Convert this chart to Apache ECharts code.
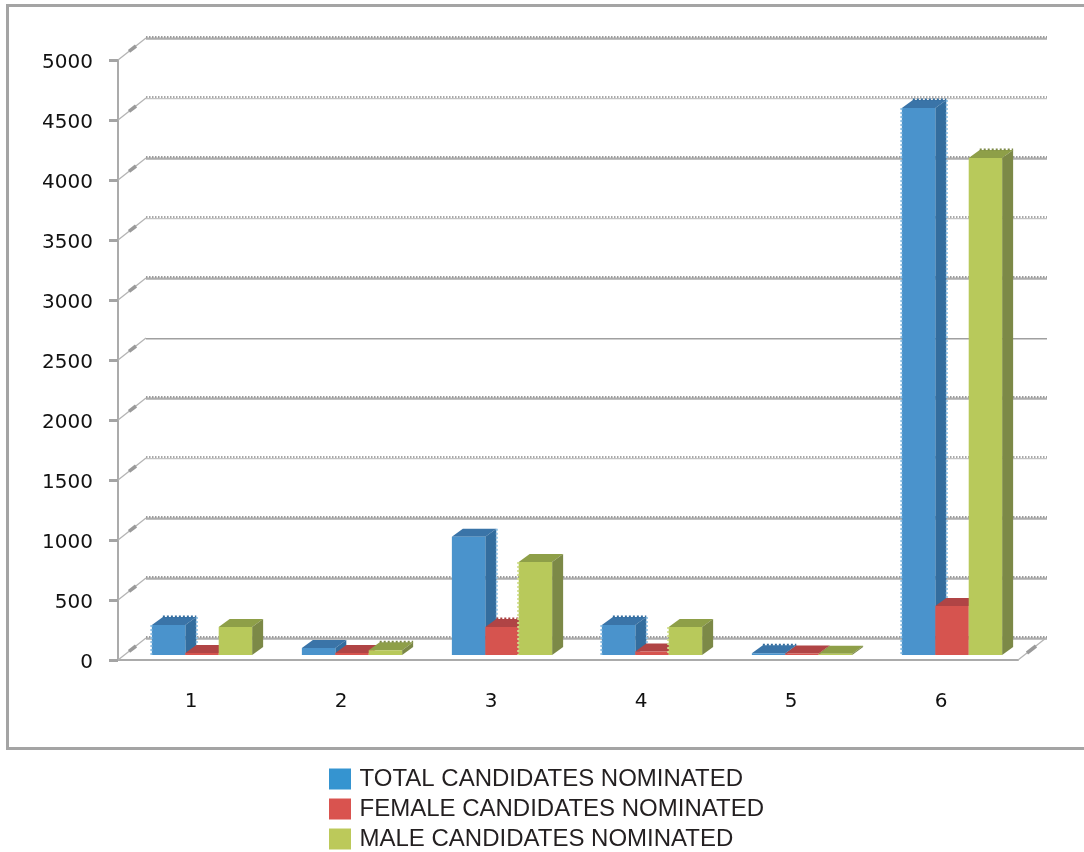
<!DOCTYPE html>
<html>
<head>
<meta charset="utf-8">
<style>html,body{margin:0;padding:0;background:#fff}#chart{width:1084px;height:852px}</style>
<script src="https://cdn.jsdelivr.net/npm/echarts@6/dist/echarts.min.js"></script>
</head>
<body>
<div id="chart"></div>
<script>
// Candidate counts by category
const categories = ['1', '2', '3', '4', '5', '6'];
const totalCandidates = [250, 58, 985, 250, 15, 4558];
const femaleCandidates = [17, 17, 233, 30, 12, 408];
const maleCandidates = [233, 40, 775, 233, 10, 4142];
const yTicks = [0, 500, 1000, 1500, 2000, 2500, 3000, 3500, 4000, 4500, 5000];
const seriesNames = ['TOTAL CANDIDATES NOMINATED', 'FEMALE CANDIDATES NOMINATED', 'MALE CANDIDATES NOMINATED'];

// Extruded-box look: wall depth, box depth and the lift of the boxes above the floor edge
const WALL = { dx: 28, dy: -22 };
const BOX = { dx: 11, dy: -8, lift: 5, shift: 9, widthRatio: 0.2228 };

const palettes = [
  { front: '#4a93cc', side: '#336d9e', top: '#3a74a8', edge: '#8fbfe2', legend: '#3594d0' },
  { front: '#d6544f', side: '#a94343', top: '#b04445', edge: '#c96a66', legend: '#d9534f' },
  { front: '#b8c95b', side: '#7c8947', top: '#8e9f48', edge: '#cfdc8a', legend: '#bcc95a' }
];

// Edges that show the stair-stepped rendering: [left, right, back] per category
const steppedEdges = [
  [[1, 1, 1], [0, 0, 0], [0, 1, 0], [1, 1, 1], [0, 0, 1], [1, 1, 1]],
  [[0, 0, 0], [0, 0, 0], [0, 0, 1], [0, 0, 0], [0, 0, 0], [0, 0, 0]],
  [[0, 0, 0], [0, 0, 1], [1, 0, 0], [1, 0, 0], [0, 0, 0], [0, 0, 1]]
];

function poly(points, fill) {
  return { type: 'polygon', shape: { points }, style: { fill }, silent: true };
}
function stepped(x1, y1, x2, y2, color) {
  return {
    type: 'line', shape: { x1, y1, x2, y2 }, silent: true,
    style: { stroke: color, lineWidth: 2, lineDash: [2, 2] }
  };
}

function renderBox(seriesIndex, params, api) {
  const cat = api.value(0);
  const base = api.coord([cat, 0]);
  const top = api.coord([cat, api.value(1)]);
  const w = api.size([1, 0])[0] * BOX.widthRatio;
  const c = palettes[seriesIndex];
  const x0 = base[0] + BOX.shift - 1.5 * w + seriesIndex * w;
  const x1 = x0 + w;
  const yb = base[1] - BOX.lift;
  const yt = top[1] - BOX.lift;
  const { dx, dy } = BOX;
  const children = [
    poly([[x0, yt], [x0 + dx, yt + dy], [x1 + dx, yt + dy], [x1, yt]], c.top),
    poly([[x1, yt], [x1 + dx, yt + dy], [x1 + dx, yb + dy], [x1, yb]], c.side),
    poly([[x0, yt], [x1, yt], [x1, yb], [x0, yb]], c.front)
  ];
  const flags = steppedEdges[seriesIndex][cat];
  if (flags[0]) children.push(stepped(x0 - 0.5, yt, x0 - 0.5, yb, c.edge));
  if (flags[1]) children.push(stepped(x1 + dx + 0.5, yt + dy, x1 + dx + 0.5, yb + dy, c.edge));
  if (flags[2]) children.push(stepped(x0 + dx, yt + dy - 0.5, x1 + dx, yt + dy - 0.5, c.side));
  return { type: 'group', children };
}

// Back-wall gridlines with their short diagonal returns to the value axis
function renderWallLine(params, api) {
  const v = api.value(1);
  const p = api.coord([0, v]);
  const rect = params.coordSys;
  const x0 = rect.x, y0 = p[1];
  const xa = x0 + WALL.dx, ya = y0 + WALL.dy;
  const xb = rect.x + rect.width + WALL.dx + 1;
  const solid = v === 2500;
  const light = v === 1500 || v === 3500 || v === 4500;
  const children = [
    { type: 'line', shape: { x1: x0, y1: y0, x2: xa, y2: ya }, silent: true,
      style: { stroke: '#b4b4b4', lineWidth: 1.3 } },
    { type: 'line', shape: { x1: x0 + 11, y1: y0 - 8.6, x2: x0 + 18, y2: y0 - 14 }, silent: true,
      style: { stroke: '#9a9a9a', lineWidth: 3.5 } }
  ];
  children.push({ type: 'line', shape: { x1: xa, y1: ya + 0.7, x2: xb, y2: ya + 0.7 }, silent: true,
    style: { stroke: solid ? '#a0a0a0' : (light ? '#c4c4c4' : '#aeaeae'), lineWidth: solid ? 1.6 : (light ? 1.2 : 2.2) } });
  if (!solid) {
    children.push({ type: 'line', shape: { x1: xa, y1: ya - 1, x2: xb, y2: ya - 1 }, silent: true,
      style: { stroke: light ? '#a8a8a8' : '#9c9c9c', lineWidth: 1.8, lineDash: [1.5, 1.5] } });
  }
  return { type: 'group', children };
}

// Floor edge running from the right end of the category axis back to the wall
function renderFloorEdge(params, api) {
  const rect = params.coordSys;
  const p = api.coord([0, 0]);
  const x0 = rect.x + rect.width, y0 = p[1];
  return { type: 'group', children: [
    { type: 'line', shape: { x1: x0, y1: y0, x2: x0 + WALL.dx, y2: y0 + WALL.dy }, silent: true,
      style: { stroke: '#b4b4b4', lineWidth: 1.3 } },
    { type: 'line', shape: { x1: x0 + 9, y1: y0 - 7, x2: x0 + 18, y2: y0 - 14 }, silent: true,
      style: { stroke: '#9a9a9a', lineWidth: 3.5 } }
  ] };
}

const seriesValues = [totalCandidates, femaleCandidates, maleCandidates];

const chart = echarts.init(document.getElementById('chart'), null, { renderer: 'canvas' });
chart.setOption({
  animation: false,
  backgroundColor: '#ffffff',
  tooltip: { show: false },
  graphic: [{
    type: 'rect', left: 6, top: 4, silent: true, z: -1,
    shape: { width: 1100, height: 743 },
    style: { fill: '#ffffff', stroke: '#a4a4a4', lineWidth: 3 }
  }],
  grid: { left: 118, top: 60, width: 900, height: 600, containLabel: false },
  xAxis: {
    type: 'category',
    data: categories,
    axisLine: { lineStyle: { color: '#ababab', width: 2 } },
    axisTick: { length: 8, lineStyle: { color: '#a4a4a4', width: 3 } },
    axisLabel: { margin: 32, fontFamily: 'DejaVu Sans', fontSize: 20, color: '#111111', padding: [0, 4, 0, 0] },
    splitLine: { show: false }
  },
  yAxis: {
    type: 'value', min: 0, max: 5000, interval: 500,
    axisLine: { show: true, lineStyle: { color: '#ababab', width: 2 } },
    axisTick: { show: true, length: 9, lineStyle: { color: '#a4a4a4', width: 3 } },
    axisLabel: {
      margin: 25, fontFamily: 'DejaVu Sans', fontSize: 20, color: '#111111',
      verticalAlign: 'top', lineHeight: 6, formatter: v => String(v)
    },
    splitLine: { show: false }
  },
  legend: {
    orient: 'vertical', left: 329, top: 767, height: 85, padding: 0,
    itemWidth: 22, itemHeight: 21, itemGap: 6,
    icon: 'rect', selectedMode: false,
    textStyle: { fontFamily: 'Liberation Sans', fontSize: 24, color: '#231f20', padding: [0, 0, 0, 3.5] },
    data: seriesNames.map((name, i) => ({ name, itemStyle: { color: palettes[i].legend } }))
  },
  series: [
    {
      type: 'custom', name: 'wall', renderItem: renderWallLine, z: 1, silent: true,
      data: yTicks.map(v => [0, v])
    },
    {
      type: 'custom', name: 'floor', renderItem: renderFloorEdge, z: 1, silent: true,
      data: [[0, 0]]
    },
    ...seriesNames.map((name, i) => ({
      type: 'custom', name, z: 3 + i, silent: true,
      itemStyle: { color: palettes[i].legend },
      renderItem: (params, api) => renderBox(i, params, api),
      encode: { x: 0, y: 1 },
      data: seriesValues[i].map((v, c) => [c, v])
    }))
  ]
});
</script>
</body>
</html>
